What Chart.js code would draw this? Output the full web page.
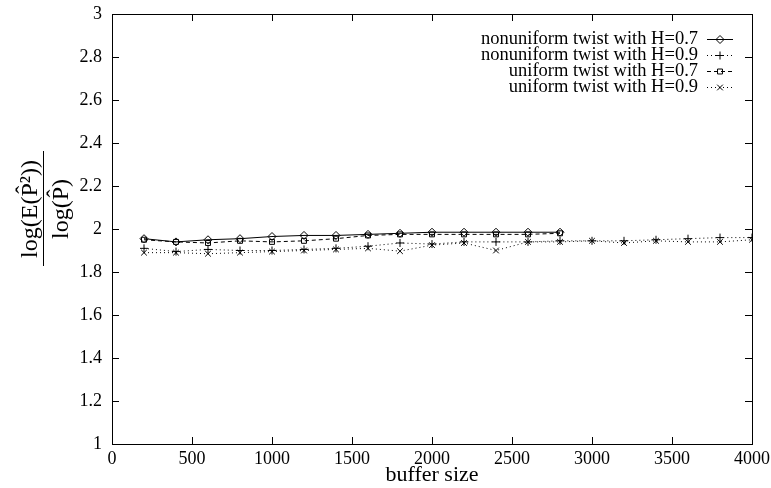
<!DOCTYPE html>
<html>
<head>
<meta charset="utf-8">
<script src="https://cdn.jsdelivr.net/npm/chart.js@4/dist/chart.umd.min.js"></script>
<style>
  html, body { margin: 0; padding: 0; background: #fff; }
  #wrap { width: 771px; height: 488px; }
</style>
</head>
<body>
<div id="wrap"><canvas id="chart" width="771" height="488"></canvas></div>
<script>
// buffer sizes
const sizesShort = [200, 400, 600, 800, 1000, 1200, 1400, 1600, 1800, 2000, 2200, 2400, 2600, 2800];
const sizesLong  = [200, 400, 600, 800, 1000, 1200, 1400, 1600, 1800, 2000, 2200, 2400, 2600, 2800,
                    3000, 3200, 3400, 3600, 3800, 4000];

// values
const nonuniform07 = [1.955, 1.94, 1.95, 1.955, 1.965, 1.97, 1.97, 1.975, 1.98, 1.985, 1.985, 1.985, 1.985, 1.985];
const nonuniform09 = [1.91, 1.895, 1.905, 1.90, 1.90, 1.905, 1.91, 1.92, 1.935, 1.93, 1.94, 1.94, 1.94, 1.945,
                      1.945, 1.945, 1.95, 1.955, 1.96, 1.96];
const uniform07    = [1.95, 1.94, 1.935, 1.945, 1.94, 1.945, 1.955, 1.97, 1.975, 1.975, 1.975, 1.975, 1.975, 1.98];
const uniform09    = [1.89, 1.89, 1.885, 1.89, 1.895, 1.90, 1.905, 1.91, 1.897, 1.925, 1.935, 1.90, 1.94, 1.94,
                      1.945, 1.935, 1.945, 1.94, 1.94, 1.95];

const seriesLabels = ['nonuniform twist with H=0.7', 'nonuniform twist with H=0.9',
                      'uniform twist with H=0.7', 'uniform twist with H=0.9'];
const xTicks = [0, 500, 1000, 1500, 2000, 2500, 3000, 3500, 4000];
const yTicks = [1, 1.2, 1.4, 1.6, 1.8, 2, 2.2, 2.4, 2.6, 2.8, 3];

const FONT = '"Liberation Serif", "Times New Roman", serif';

const pts = (xs, ys) => ys.map((y, i) => ({ x: xs[i], y }));

const styles = [
  { dash: [],     point: 'rectRot',  radius: 4 },
  { dash: [1, 3], point: 'cross',    radius: 4 },
  { dash: [4, 3], point: 'rect',     radius: 3.5 },
  { dash: [1, 3], point: 'crossRot', radius: 4 },
];

const datasets = [
  pts(sizesShort, nonuniform07),
  pts(sizesLong, nonuniform09),
  pts(sizesShort, uniform07),
  pts(sizesLong, uniform09),
].map((data, i) => ({
  label: seriesLabels[i],
  data,
  borderColor: '#000',
  borderWidth: 1,
  borderDash: styles[i].dash,
  pointStyle: styles[i].point,
  pointRadius: styles[i].radius,
  pointBorderColor: '#000',
  pointBackgroundColor: 'rgba(0,0,0,0)',
  pointBorderWidth: 1,
  tension: 0,
  fill: false,
}));

// gnuplot-style frame with inward ticks, legend and fraction y-label
const framePlugin = {
  id: 'frame',
  afterDraw(chart) {
    const { ctx, chartArea: a, scales } = chart;
    ctx.save();
    ctx.strokeStyle = '#000';
    ctx.lineWidth = 1;
    ctx.setLineDash([]);
    ctx.strokeRect(Math.round(a.left) + 0.5, Math.round(a.top) + 0.5,
                   Math.round(a.right - a.left), Math.round(a.bottom - a.top));
    const t = 7;
    ctx.beginPath();
    xTicks.forEach(v => {
      const x = Math.round(scales.x.getPixelForValue(v)) + 0.5;
      ctx.moveTo(x, a.bottom); ctx.lineTo(x, a.bottom - t);
      ctx.moveTo(x, a.top); ctx.lineTo(x, a.top + t);
    });
    yTicks.forEach(v => {
      const y = Math.round(scales.y.getPixelForValue(v)) + 0.5;
      ctx.moveTo(a.left, y); ctx.lineTo(a.left + t, y);
      ctx.moveTo(a.right, y); ctx.lineTo(a.right - t, y);
    });
    ctx.stroke();

    // legend
    ctx.font = '18.5px ' + FONT;
    ctx.textAlign = 'right';
    ctx.textBaseline = 'middle';
    const textRight = 698, lx0 = 707, lx1 = 733, ly0 = 39, dy = 16;
    datasets.forEach((ds, i) => {
      const y = ly0 + i * dy;
      ctx.fillStyle = '#000';
      ctx.fillText(ds.label, textRight, y);
      ctx.beginPath();
      ctx.setLineDash(ds.borderDash);
      ctx.moveTo(lx0, y + 0.5); ctx.lineTo(lx1, y + 0.5);
      ctx.stroke();
      ctx.setLineDash([]);
      ctx.fillStyle = 'rgba(0,0,0,0)';
      Chart.helpers.drawPoint(ctx, {
        pointStyle: ds.pointStyle, radius: ds.pointRadius, rotation: 0, borderWidth: 1
      }, (lx0 + lx1) / 2, y + 0.5);
    });

    // y label: log(E(P^2)) / log(P^) as rotated fraction
    ctx.fillStyle = '#000';
    ctx.translate(43, 209);
    ctx.rotate(-Math.PI / 2);
    ctx.font = '24px ' + FONT;
    ctx.textAlign = 'center';
    ctx.textBaseline = 'alphabetic';
    ctx.fillText('log(E(P\u0302\u00B2))', 0, -6);
    ctx.beginPath();
    ctx.moveTo(-57, 0.5); ctx.lineTo(58, 0.5);
    ctx.stroke();
    ctx.fillText('log(P\u0302)', 0, 25);
    ctx.restore();
  }
};

new Chart(document.getElementById('chart'), {
  type: 'line',
  data: { datasets },
  plugins: [framePlugin],
  options: {
    responsive: false,
    animation: false,
    layout: { padding: { top: 14, right: 19, left: 0, bottom: 0 } },
    plugins: { legend: { display: false }, tooltip: { enabled: false } },
    scales: {
      x: {
        type: 'linear', min: 0, max: 4000,
        afterBuildTicks: s => { s.ticks = xTicks.map(v => ({ value: v })); },
        afterFit: s => { s.height = 44; s.paddingLeft = 0; s.paddingRight = 0; },
        grid: { display: false, drawTicks: false },
        border: { display: false },
        ticks: { color: '#000', font: { family: FONT, size: 18 }, padding: 4, maxRotation: 0,
                 callback: v => String(v) },
        title: { display: true, text: 'buffer size', color: '#000', font: { family: FONT, size: 22 }, padding: 0 },
      },
      y: {
        type: 'linear', min: 1, max: 3,
        afterBuildTicks: s => { s.ticks = yTicks.map(v => ({ value: v })); },
        afterFit: s => { s.width = 112; s.paddingTop = 0; s.paddingBottom = 0; },
        grid: { display: false, drawTicks: false },
        border: { display: false },
        ticks: { color: '#000', font: { family: FONT, size: 18 }, padding: 10,
                 callback: v => String(v) },
      },
    },
  },
});
</script>
</body>
</html>
